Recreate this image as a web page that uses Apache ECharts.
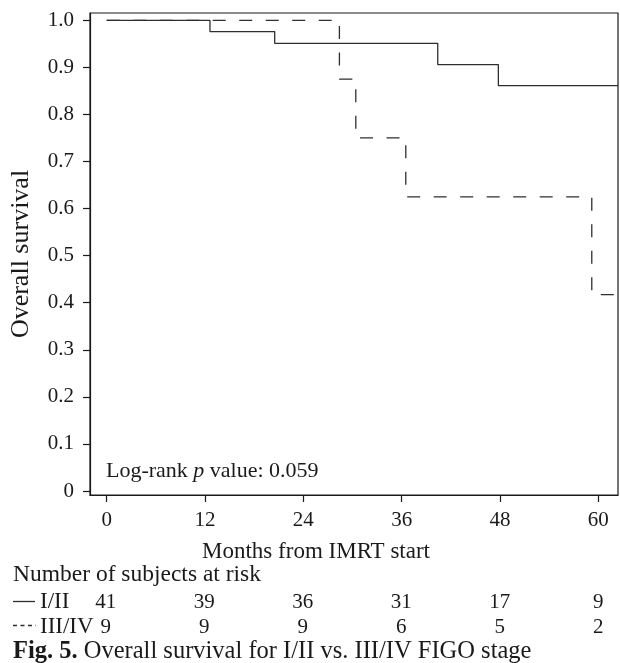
<!DOCTYPE html>
<html>
<head>
<meta charset="utf-8">
<script src="https://cdn.jsdelivr.net/npm/echarts@6/dist/echarts.min.js"></script>
<style>html,body{margin:0;padding:0;background:#fff}#c{width:620px;height:663px}</style>
</head>
<body>
<div id="c"></div>
<script>
// Kaplan–Meier step data (months, survival)
var timesI = [0, 12.6, 20.5, 40.4, 47.8, 62.4];
var survI = [1, 0.976, 0.951, 0.906, 0.861, 0.861];
var timesIII = [0, 28.4, 30.4, 36.5, 59.2, 62.0];
var survIII = [1, 0.875, 0.75, 0.625, 0.417, 0.417];

// axis ticks
var xTicks = [0, 12, 24, 36, 48, 60];
var yTicks = [0, 0.1, 0.2, 0.3, 0.4, 0.5, 0.6, 0.7, 0.8, 0.9, 1.0];

// number at risk
var riskTimes = [0, 12, 24, 36, 48, 60];
var riskI = [41, 39, 36, 31, 17, 9];
var riskIII = [9, 9, 9, 6, 5, 2];
var groupNames = ['I/II', 'III/IV'];

var FONT = '"Liberation Serif", "DejaVu Serif", serif';
var INK = '#1a1a1a';
var LINE = '#2e2e2e';

function pairs(xs, ys) { return xs.map(function (x, i) { return [x, ys[i]]; }); }
function riskPts(vals, row) { return riskTimes.map(function (t, i) { return [t, row, vals[i]]; }); }

var riskLabel = {
  show: true, position: 'inside', formatter: function (p) { return p.value[2]; },
  fontFamily: FONT, fontSize: 21, color: INK, opacity: 1
};

var chart = echarts.init(document.getElementById('c'), null, { renderer: 'canvas' });
chart.setOption({
  animation: false,
  backgroundColor: '#fff',
  grid: [
    { left: 89, right: 2, top: 13, height: 482, show: true, borderColor: INK, borderWidth: 1.2, containLabel: false },
    { left: 89, right: 2, top: 589.5, height: 50, show: false }
  ],
  xAxis: [
    {
      type: 'value', gridIndex: 0, min: -2.04, max: 62.4,
      splitLine: { show: false },
      axisLine: { show: true, onZero: false, lineStyle: { color: INK, width: 1.2 } },
      axisTick: { show: true, length: 7, lineStyle: { color: INK, width: 1.2 }, customValues: xTicks },
      axisLabel: { show: true, customValues: xTicks, margin: 15, fontFamily: FONT, fontSize: 21, color: INK }
    },
    {
      type: 'value', gridIndex: 1, min: -2.04, max: 62.4, show: false
    }
  ],
  yAxis: [
    {
      type: 'value', gridIndex: 0, min: -0.0085, max: 1.0155,
      splitLine: { show: false },
      axisLine: { show: true, onZero: false, lineStyle: { color: INK, width: 1.2 } },
      axisTick: { show: true, length: 7, lineStyle: { color: INK, width: 1.2 }, customValues: yTicks },
      axisLabel: {
        show: true, customValues: yTicks, margin: 16, fontFamily: FONT, fontSize: 21, color: INK,
        formatter: function (v) { return Math.abs(v) < 1e-9 ? '0' : v.toFixed(1); }
      },
      name: 'Overall survival', nameLocation: 'middle', nameGap: 56, nameRotate: 90,
      nameTextStyle: { fontFamily: FONT, fontSize: 26, color: INK }
    },
    {
      type: 'category', gridIndex: 1, data: groupNames, inverse: true, show: false
    }
  ],
  series: [
    {
      name: 'III/IV', type: 'line', step: 'end', xAxisIndex: 0, yAxisIndex: 0,
      data: pairs(timesIII, survIII), symbol: 'none', clip: true,
      lineStyle: { color: LINE, width: 1.3, type: [13, 13.5] }, z: 2
    },
    {
      name: 'I/II', type: 'line', step: 'end', xAxisIndex: 0, yAxisIndex: 0,
      data: pairs(timesI, survI), symbol: 'none', clip: true,
      lineStyle: { color: LINE, width: 1.3, type: 'solid' }, z: 3
    },
    {
      name: 'risk I/II', type: 'scatter', xAxisIndex: 1, yAxisIndex: 1,
      data: riskPts(riskI, 0), symbolSize: 1,
      itemStyle: { color: 'rgba(0,0,0,0)', opacity: 1 },
      label: riskLabel
    },
    {
      name: 'risk III/IV', type: 'scatter', xAxisIndex: 1, yAxisIndex: 1,
      data: riskPts(riskIII, 1), symbolSize: 1,
      itemStyle: { color: 'rgba(0,0,0,0)', opacity: 1 },
      label: riskLabel
    }
  ],
  graphic: [
    { type: 'text', left: 106, top: 460,
      style: { text: '{a|Log-rank }{i|p}{a| value: 0.059}', rich: {
        a: { fontFamily: FONT, fontSize: 22, fill: INK },
        i: { fontFamily: FONT, fontSize: 22, fontStyle: 'italic', fill: INK } } } },
    { type: 'text', x: 316, y: 552,
      style: { text: 'Months from IMRT start', fontFamily: FONT, fontSize: 23, fill: INK, align: 'center', verticalAlign: 'middle' } },
    { type: 'text', x: 13, y: 575,
      style: { text: 'Number of subjects at risk', fontFamily: FONT, fontSize: 23.5, fill: INK, align: 'left', verticalAlign: 'middle' } },
    { type: 'line', shape: { x1: 13, y1: 601.5, x2: 35, y2: 601.5 }, style: { stroke: LINE, lineWidth: 1.3 } },
    { type: 'line', shape: { x1: 13, y1: 625.5, x2: 36, y2: 625.5 }, style: { stroke: LINE, lineWidth: 1.3, lineDash: [4, 3.5] } },
    { type: 'text', x: 40, y: 602,
      style: { text: groupNames[0], fontFamily: FONT, fontSize: 23, fill: INK, align: 'left', verticalAlign: 'middle' } },
    { type: 'text', x: 40, y: 627,
      style: { text: groupNames[1], fontFamily: FONT, fontSize: 23, fill: INK, align: 'left', verticalAlign: 'middle' } },
    { type: 'text', x: 13, y: 652,
      style: { text: '{b|Fig. 5.}{a| Overall survival for I/II vs. III/IV FIGO stage}', verticalAlign: 'middle', rich: {
        a: { fontFamily: FONT, fontSize: 24.5, fill: INK },
        b: { fontFamily: FONT, fontSize: 24.5, fontWeight: 'bold', fill: INK } } } }
  ]
});
</script>
</body>
</html>
